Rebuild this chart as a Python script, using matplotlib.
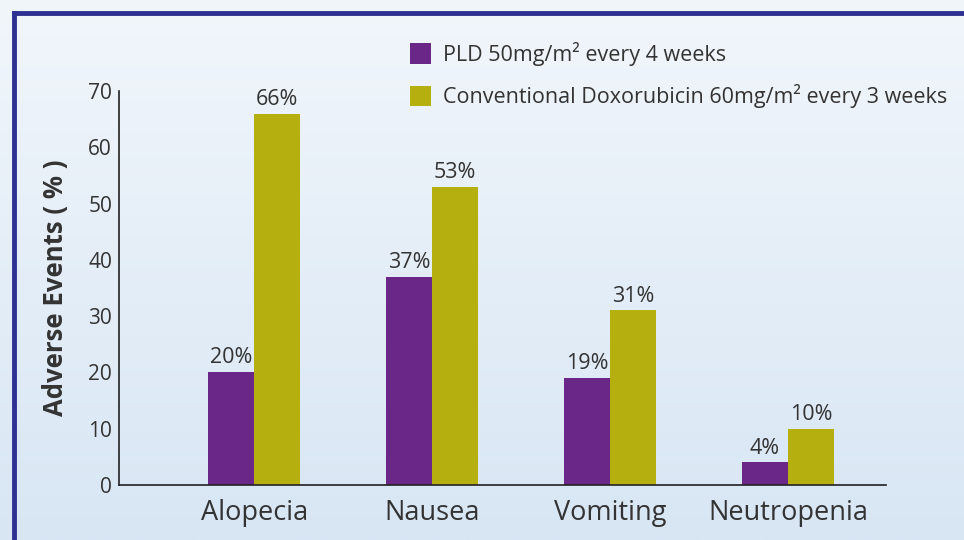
import numpy as np
import matplotlib.pyplot as plt
from matplotlib.colors import LinearSegmentedColormap

# Daten
kategorien = ["Alopecia", "Nausea", "Vomiting", "Neutropenia"]
pld = [20, 37, 19, 4]
doxo = [66, 53, 31, 10]
label_pld = "PLD 50mg/m² every 4 weeks"
label_doxo = "Conventional Doxorubicin 60mg/m² every 3 weeks"
ylabel = "Adverse Events ( % )"

lila = "#6b2787"
gold = "#b5b010"
text_col = "#333333"
plt.rcParams['font.family'] = ['Open Sans', 'DejaVu Sans']

fig = plt.figure(figsize=(9.64, 5.4), dpi=100)

# Hintergrund mit Verlauf
bg = fig.add_axes([0, 0, 1, 1], zorder=-10)
grad = np.linspace(0, 1, 256).reshape(-1, 1)
cmap = LinearSegmentedColormap.from_list("bg", ["#f1f6fb", "#d8e6f4"])
bg.imshow(grad, aspect="auto", cmap=cmap, extent=[0, 1, 0, 1], origin="upper")
bg.set_xlim(0, 1)
bg.set_ylim(0, 1)
bg.axis("off")
# Rahmen oben und links
bg.plot([0.0145, 0.0145], [0, 0.976], color="#2e3192", lw=3.5, solid_capstyle="projecting")
bg.plot([0.0145, 1.0], [0.976, 0.976], color="#2e3192", lw=3.5, solid_capstyle="projecting")

ax = fig.add_axes([0.1234, 0.1019, 0.7956, 0.7296])
ax.patch.set_alpha(0)
x = np.arange(len(kategorien))
w = 0.26
b1 = ax.bar(x - w/2, pld, w, color=lila, label=label_pld)
b2 = ax.bar(x + w/2, doxo, w, color=gold, label=label_doxo)

for bars, vals in [(b1, pld), (b2, doxo)]:
    for r, v in zip(bars, vals):
        ax.text(r.get_x() + r.get_width()/2, v + 0.7, f"{v}%", ha="center", va="bottom",
                fontsize=15.5, color=text_col)

ax.set_xlim(-0.76, 3.55)
ax.set_ylim(0, 70)
ax.set_yticks(range(0, 71, 10))
ax.set_xticks(x)
ax.set_xticklabels(kategorien, fontsize=19.5, color=text_col)
ax.tick_params(axis="y", labelsize=15, labelcolor=text_col, length=0, pad=5)
ax.tick_params(axis="x", length=0, pad=10)
for s in ["top", "right"]:
    ax.spines[s].set_visible(False)
for s in ["left", "bottom"]:
    ax.spines[s].set_color("#222222")
    ax.spines[s].set_linewidth(1.2)
ax.set_ylabel(ylabel, fontsize=18.5, fontweight="bold", color=text_col, labelpad=14)

leg = fig.legend(loc="upper left", bbox_to_anchor=(0.405, 0.958), frameon=False,
                 fontsize=15.5, handlelength=1.0, handleheight=1.1, handletextpad=0.55,
                 labelspacing=0.85, labelcolor=text_col)

plt.savefig("out.png", dpi=100)
